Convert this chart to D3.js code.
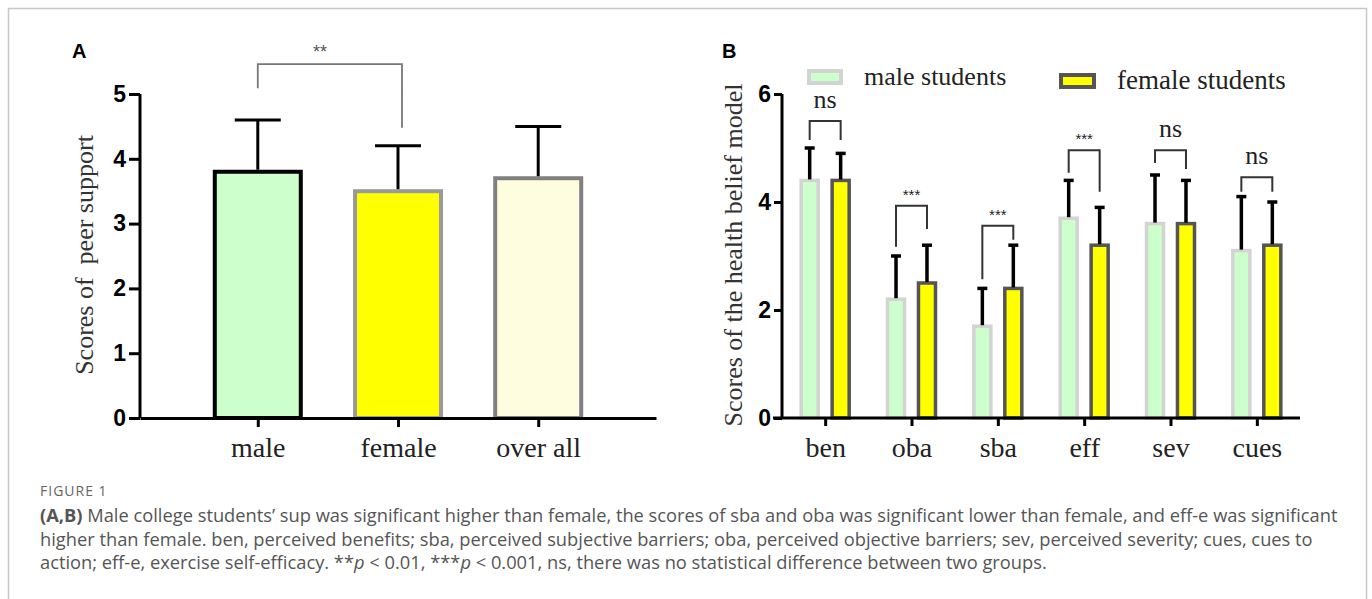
<!DOCTYPE html>
<html>
<head>
<meta charset="utf-8">
<script src="https://cdn.jsdelivr.net/npm/d3@7"></script>
<style>
  html, body { margin: 0; padding: 0; background: #fff; }
  svg { display: block; }
</style>
</head>
<body>
<svg id="chart" width="1372" height="599"></svg>
<script>
// ---------- Panel A data ----------
const catsA = ["male", "female", "over all"];
const meanA = [3.8, 3.5, 3.7];
const sdA = [0.8, 0.7, 0.8];
const ticksA = [0, 1, 2, 3, 4, 5];
const fillA = ["#ccffcc", "#ffff00", "#fffde0"];
const strokeA = ["#000000", "#9a9a9a", "#808080"];
const sigA = { from: "male", to: "female", label: "**", top: 5.46, left: 5.09, right: 4.48 };

// ---------- Panel B data ----------
const catsB = ["ben", "oba", "sba", "eff", "sev", "cues"];
const seriesB = ["male students", "female students"];
const maleB = [4.4, 2.2, 1.7, 3.7, 3.6, 3.1];
const maleSdB = [0.6, 0.8, 0.7, 0.7, 0.9, 1.0];
const femaleB = [4.4, 2.5, 2.4, 3.2, 3.6, 3.2];
const femaleSdB = [0.5, 0.7, 0.8, 0.7, 0.8, 0.8];
const ticksB = [0, 2, 4, 6];
const sigB = ["ns", "***", "***", "***", "ns", "ns"];
const bracketTopB = [5.5, 3.93, 3.56, 4.96, 4.96, 4.46];
const bracketLeftB = [5.15, 3.17, 2.57, 4.54, 4.72, 4.19];
const bracketRightB = [5.15, 3.5, 3.3, 4.19, 4.61, 4.19];

const captionLines = [
  [["b", "(A,B)"], ["n", " Male college students’ sup was significant higher than female, the scores of sba and oba was significant lower than female, and eff-e was significant"]],
  [["n", "higher than female. ben, perceived benefits; sba, perceived subjective barriers; oba, perceived objective barriers; sev, perceived severity; cues, cues to"]],
  [["n", "action; eff-e, exercise self-efficacy. **"], ["i", "p"], ["n", " < 0.01, ***"], ["i", "p"], ["n", " < 0.001, ns, there was no statistical difference between two groups."]]
];

const svg = d3.select("#chart");
const SERIF = "'Liberation Serif', 'Times New Roman', serif";
const SANS = "'Liberation Sans', Arial, sans-serif";

svg.append("rect").attr("width", 1372).attr("height", 599).attr("fill", "#fff");
// frame
svg.append("rect").attr("x", 8.5).attr("y", 8.5).attr("width", 1358).attr("height", 620)
  .attr("fill", "none").attr("stroke", "#c8c8c8").attr("stroke-width", 1.5);

// ================= Panel A =================
const gA = svg.append("g");
const yA = d3.scaleLinear().domain([0, 5]).range([418, 94]);
const xA = d3.scalePoint().domain(catsA).range([140, 656]).padding(0.84);
const barWA = 86;

gA.append("text").attr("x", 72).attr("y", 58).text("A")
  .attr("font-family", SANS).attr("font-weight", "bold").attr("font-size", 20).attr("fill", "#000");

// bars
gA.selectAll("rect.bar").data(catsA).join("rect")
  .attr("class", "bar")
  .attr("x", d => xA(d) - barWA / 2)
  .attr("y", (d, i) => yA(meanA[i]))
  .attr("width", barWA)
  .attr("height", (d, i) => yA(0) - yA(meanA[i]))
  .attr("fill", (d, i) => fillA[i])
  .attr("stroke", (d, i) => strokeA[i])
  .attr("stroke-width", 4);

// error bars
const ebA = gA.selectAll("g.eb").data(catsA).join("g").attr("class", "eb");
ebA.append("line")
  .attr("x1", d => xA(d)).attr("x2", d => xA(d))
  .attr("y1", (d, i) => yA(meanA[i]) - 2).attr("y2", (d, i) => yA(meanA[i] + sdA[i]))
  .attr("stroke", "#000").attr("stroke-width", 3);
ebA.append("line")
  .attr("x1", d => xA(d) - 23).attr("x2", d => xA(d) + 23)
  .attr("y1", (d, i) => yA(meanA[i] + sdA[i])).attr("y2", (d, i) => yA(meanA[i] + sdA[i]))
  .attr("stroke", "#000").attr("stroke-width", 3);

// axes
const axAy = gA.append("g").attr("transform", "translate(140,0)")
  .call(d3.axisLeft(yA).tickValues(ticksA).tickFormat(d3.format("d")).tickSize(11).tickSizeOuter(0).tickPadding(3));
axAy.select(".domain").attr("stroke-width", 3).attr("d", `M0,${yA(5)}V${yA(0)}`);
axAy.selectAll(".tick line").attr("stroke-width", 3);
axAy.selectAll(".tick text").attr("font-family", SANS).attr("font-weight", "bold")
  .attr("font-size", 23).attr("fill", "#000");

const axAx = gA.append("g").attr("transform", "translate(0,418)")
  .call(d3.axisBottom(xA).tickSize(9).tickSizeOuter(0));
axAx.select(".domain").attr("stroke-width", 3);
axAx.selectAll(".tick line").attr("stroke-width", 3);
axAx.selectAll(".tick text").attr("font-family", SERIF).attr("font-size", 28)
  .attr("fill", "#222").attr("y", 39).attr("dy", 0);

gA.append("text").attr("transform", "translate(93,255) rotate(-90)")
  .attr("text-anchor", "middle").attr("font-family", SERIF).attr("font-size", 26)
  .attr("fill", "#333").attr("xml:space", "preserve").style("white-space", "pre")
  .text("Scores of  peer support");

// significance bracket A
{
  const x1 = xA(sigA.from), x2 = xA(sigA.to) + 4;
  gA.append("path")
    .attr("d", `M${x1},${yA(sigA.left)}V${yA(sigA.top)}H${x2}V${yA(sigA.right)}`)
    .attr("fill", "none").attr("stroke", "#777").attr("stroke-width", 1.8);
  gA.append("text").attr("x", (x1 + x2) / 2 - 10).attr("y", 58).attr("text-anchor", "middle")
    .attr("font-family", SANS).attr("font-size", 18).attr("fill", "#555").text(sigA.label);
}

// ================= Panel B =================
const gB = svg.append("g");
const yB = d3.scaleLinear().domain([0, 6]).range([418, 94]);
const xB = d3.scalePoint().domain(catsB).range([782, 1300]).padding(0.5);
const x1B = d3.scaleBand().domain(seriesB).range([-24, 24]).paddingInner(0.45);
const valsB = [maleB, femaleB];
const sdsB = [maleSdB, femaleSdB];
const fillB = ["#ccffcc", "#ffff00"];
const strokeB = ["#d3d3d3", "#555555"];

gB.append("text").attr("x", 722).attr("y", 58).text("B")
  .attr("font-family", SANS).attr("font-weight", "bold").attr("font-size", 20).attr("fill", "#000");

const dataB = [];
catsB.forEach((c, i) => seriesB.forEach((s, k) => dataB.push({ c, s, k, v: valsB[k][i], sd: sdsB[k][i] })));

gB.selectAll("rect.bar").data(dataB).join("rect")
  .attr("class", "bar")
  .attr("x", d => xB(d.c) + x1B(d.s))
  .attr("y", d => yB(d.v))
  .attr("width", x1B.bandwidth())
  .attr("height", d => yB(0) - yB(d.v))
  .attr("fill", d => fillB[d.k])
  .attr("stroke", d => strokeB[d.k])
  .attr("stroke-width", 3.5);

const ebB = gB.selectAll("g.eb").data(dataB).join("g").attr("class", "eb");
ebB.append("line")
  .attr("x1", d => xB(d.c) + x1B(d.s) + x1B.bandwidth() / 2)
  .attr("x2", d => xB(d.c) + x1B(d.s) + x1B.bandwidth() / 2)
  .attr("y1", d => yB(d.v) - 1).attr("y2", d => yB(d.v + d.sd))
  .attr("stroke", "#000").attr("stroke-width", 3.5);
ebB.append("line")
  .attr("x1", d => xB(d.c) + x1B(d.s) + x1B.bandwidth() / 2 - 5)
  .attr("x2", d => xB(d.c) + x1B(d.s) + x1B.bandwidth() / 2 + 5)
  .attr("y1", d => yB(d.v + d.sd)).attr("y2", d => yB(d.v + d.sd))
  .attr("stroke", "#000").attr("stroke-width", 3.5);

const axBy = gB.append("g").attr("transform", "translate(782,0)")
  .call(d3.axisLeft(yB).tickValues(ticksB).tickFormat(d3.format("d")).tickSize(8).tickSizeOuter(0).tickPadding(3));
axBy.select(".domain").attr("stroke-width", 3).attr("d", `M0,${yB(6)}V${yB(0)}`);
axBy.selectAll(".tick line").attr("stroke-width", 3);
axBy.selectAll(".tick text").attr("font-family", SANS).attr("font-weight", "bold")
  .attr("font-size", 23).attr("fill", "#000");

const axBx = gB.append("g").attr("transform", "translate(0,418)")
  .call(d3.axisBottom(xB).tickSize(8).tickSizeOuter(0));
axBx.select(".domain").attr("stroke-width", 3).attr("d", "M773,0H1300");
axBx.selectAll(".tick line").attr("stroke-width", 3);
axBx.selectAll(".tick text").attr("font-family", SERIF).attr("font-size", 28)
  .attr("fill", "#222").attr("y", 39).attr("dy", 0);

gB.append("text").attr("transform", "translate(742,255) rotate(-90)")
  .attr("text-anchor", "middle").attr("font-family", SERIF).attr("font-size", 26)
  .attr("fill", "#333").text("Scores of the health belief model");

// brackets B
catsB.forEach((c, i) => {
  const xl = xB(c) + x1B(seriesB[0]) + x1B.bandwidth() / 2;
  const xr = xB(c) + x1B(seriesB[1]) + x1B.bandwidth() / 2;
  gB.append("path")
    .attr("d", `M${xl},${yB(bracketLeftB[i])}V${yB(bracketTopB[i])}H${xr}V${yB(bracketRightB[i])}`)
    .attr("fill", "none").attr("stroke", "#333").attr("stroke-width", 2);
  const isNs = sigB[i] === "ns";
  gB.append("text").attr("x", (xl + xr) / 2).attr("y", yB(bracketTopB[i]) - (isNs ? 13 : 6))
    .attr("text-anchor", "middle")
    .attr("font-family", isNs ? SERIF : SANS).attr("font-size", isNs ? 26 : 15)
    .attr("fill", "#222").text(sigB[i]);
});

// legend B
const legB = [
  { x: 809, y: 71, w: 32, h: 12, tx: 864, ty: 85, size: 26 },
  { x: 1061, y: 75, w: 33, h: 12, tx: 1117, ty: 89, size: 27 }
];
seriesB.forEach((s, k) => {
  const L = legB[k];
  gB.append("rect").attr("x", L.x).attr("y", L.y).attr("width", L.w).attr("height", L.h)
    .attr("fill", fillB[k]).attr("stroke", strokeB[k]).attr("stroke-width", 4);
  gB.append("text").attr("x", L.tx).attr("y", L.ty).attr("font-family", SERIF)
    .attr("font-size", L.size).attr("fill", "#222").text(s);
});

// ================= Caption =================
const CAP = "'Open Sans', 'Noto Sans', sans-serif";
svg.append("text").attr("x", 40).attr("y", 496).attr("font-family", CAP).attr("font-size", 14)
  .attr("fill", "#666").attr("letter-spacing", 1).text("FIGURE 1");
captionLines.forEach((parts, li) => {
  const t = svg.append("text").attr("x", 40).attr("y", 522 + li * 23.5)
    .attr("font-family", CAP).attr("font-size", 18.3).attr("fill", "#555")
    .attr("xml:space", "preserve").style("white-space", "pre");
  parts.forEach(([kind, str]) => {
    const ts = t.append("tspan").text(str);
    if (kind === "b") ts.attr("font-weight", "bold").attr("fill", "#555");
    if (kind === "i") ts.attr("font-style", "italic");
  });
});
</script>
</body>
</html>
